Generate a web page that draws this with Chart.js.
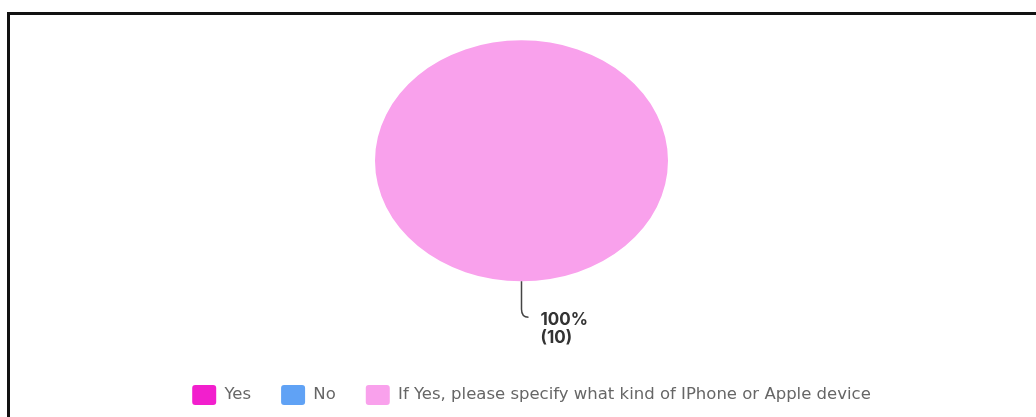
<!DOCTYPE html>
<html>
<head>
<meta charset="utf-8">
<script src="https://cdn.jsdelivr.net/npm/chart.js@4.4.1/dist/chart.umd.min.js"></script>
<style>
  html, body { margin: 0; padding: 0; background: #fff; }
  body { width: 1036px; height: 417px; overflow: hidden; position: relative; }
  #frame { position: absolute; left: 7px; top: 12px; width: 1100px; height: 500px;
           border-left: 3px solid #111; border-top: 3px solid #111; box-sizing: border-box; }
  #wrap { position: absolute; left: 0; top: 0; width: 1036px; height: 417px; }
</style>
</head>
<body>
<div id="frame"></div>
<div id="wrap"><canvas id="c" width="1036" height="417"></canvas></div>
<script>
const categories = ['Yes', 'No', 'If Yes, please specify what kind of IPhone or Apple device'];
const responseCounts = [0, 0, 10];
const sliceColors = ['#f21fcd', '#60a2f5', '#f9a1ec'];

const ELLIPSE_RX = 146.5, ELLIPSE_RY = 120.5;
const LEGEND_SHIFT_X = 10;

const ellipsePlugin = {
  id: 'ellipse',
  beforeDatasetsDraw(chart) {
    const el = chart.getDatasetMeta(0).data[0];
    const ctx = chart.ctx;
    ctx.save();
    ctx.translate(el.x, 0);
    ctx.scale(ELLIPSE_RX / ELLIPSE_RY, 1);
    ctx.translate(-el.x, 0);
  },
  afterDatasetsDraw(chart) {
    chart.ctx.restore();
  }
};

const legendShiftPlugin = {
  id: 'legendShift',
  afterLayout(chart) {
    if (chart.legend) {
      chart.legend.left += LEGEND_SHIFT_X;
      chart.legend.right += LEGEND_SHIFT_X;
    }
  }
};

const labelPlugin = {
  id: 'sliceLabel',
  afterDatasetsDraw(chart) {
    const ctx = chart.ctx;
    const meta = chart.getDatasetMeta(0);
    const total = responseCounts.reduce((a, b) => a + b, 0);
    meta.data.forEach((arc, i) => {
      const v = responseCounts[i];
      if (!v) return;
      const pct = Math.round(v / total * 100);
      const x0 = arc.x, y0 = arc.y + arc.outerRadius;
      ctx.save();
      ctx.strokeStyle = '#444';
      ctx.lineWidth = 1.5;
      ctx.beginPath();
      ctx.moveTo(x0, y0);
      ctx.lineTo(x0, y0 + 28);
      ctx.quadraticCurveTo(x0, y0 + 36, x0 + 7, y0 + 36);
      ctx.stroke();
      ctx.fillStyle = '#333';
      ctx.font = 'bold 17px Inter';
      ctx.textBaseline = 'middle';
      ctx.textAlign = 'left';
      ctx.fillText(pct + '%', x0 + 19, y0 + 39);
      ctx.fillText('(' + v + ')', x0 + 19, y0 + 57);
      ctx.restore();
    });
  }
};

new Chart(document.getElementById('c'), {
  type: 'pie',
  data: {
    labels: categories,
    datasets: [{
      data: responseCounts,
      backgroundColor: sliceColors,
      borderWidth: 0,
      radius: ELLIPSE_RY
    }]
  },
  options: {
    responsive: false,
    animation: false,
    layout: { padding: { left: 7, top: 21, right: 0, bottom: 2 } },
    plugins: {
      tooltip: { enabled: false },
      legend: {
        position: 'bottom',
        title: { display: true, text: '', padding: { top: 40, bottom: 0 } },
        labels: {
          boxWidth: 24,
          boxHeight: 20,
          useBorderRadius: true,
          borderRadius: 3,
          padding: 30,
          color: '#666',
          font: { family: '"DejaVu Sans"', size: 16.5 }
        }
      }
    }
  },
  plugins: [ellipsePlugin, legendShiftPlugin, labelPlugin]
});
</script>
</body>
</html>
